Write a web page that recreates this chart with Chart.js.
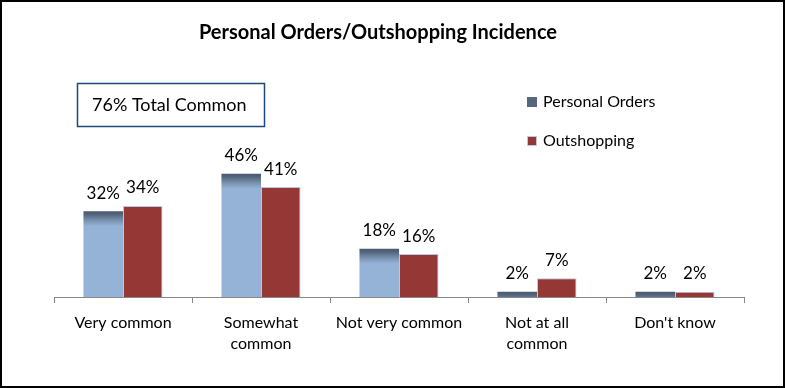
<!DOCTYPE html>
<html>
<head>
<meta charset="utf-8">
<script src="https://cdn.jsdelivr.net/npm/chart.js@4.4.0/dist/chart.umd.min.js"></script>
<style>
  html, body { margin: 0; padding: 0; background: #fff; }
  #wrap { width: 785px; height: 388px; position: relative; }
</style>
</head>
<body>
<div id="wrap"><canvas id="chart"></canvas></div>
<script>
// data dari gambar
var judul = 'Personal Orders/Outshopping Incidence';
var kotakTeks = '76% Total Common';
var kategori = [['Very common'], ['Somewhat', 'common'], ['Not very common'], ['Not at all', 'common'], ["Don't know"]];
var namaSeri = ['Personal Orders', 'Outshopping'];
var personalOrders = [32, 46, 18, 2, 2];
var outshopping = [34, 41, 16, 7, 2];

var FONT = 'Lato, "Liberation Sans", sans-serif';

// gradasi untuk bar biru (atas gelap, bawah biru muda)
function warnaBiru(context) {
    var chart = context.chart;
    if (!chart.chartArea || context.type !== 'data') return '#95b3d7';
    var y = chart.scales.y.getPixelForValue(context.raw);
    var g = chart.ctx.createLinearGradient(0, y, 0, y + 15);
    g.addColorStop(0, '#4a5a6e');
    g.addColorStop(0.2, '#52647b');
    g.addColorStop(0.6, '#7890ae');
    g.addColorStop(1, '#95b3d7');
    return g;
}

// plugin untuk judul, kotak, legend, label nilai dan bingkai
var hiasan = {
    id: 'hiasan',
    afterDatasetsDraw: function (chart) {
        var ctx = chart.ctx;
        ctx.save();
        ctx.fillStyle = '#000';
        ctx.textAlign = 'center';
        ctx.textBaseline = 'middle';
        ctx.font = '17px ' + FONT;
        chart.data.datasets.forEach(function (ds, i) {
            var meta = chart.getDatasetMeta(i);
            meta.data.forEach(function (bar, j) {
                ctx.fillText(ds.data[j] + '%', bar.x, bar.y - 18);
            });
        });

        // judul
        ctx.font = 'bold 20px ' + FONT;
        ctx.fillText(judul, 378, 33);

        // kotak teks
        ctx.strokeStyle = '#1f497d';
        ctx.lineWidth = 1.5;
        ctx.strokeRect(77.5, 83.5, 187, 43);
        ctx.font = '18px ' + FONT;
        ctx.textAlign = 'left';
        ctx.fillText(kotakTeks, 92, 105);

        // legend
        var warnaLegend = ['#56677d', '#953735'];
        var yLegend = [102, 141];
        ctx.font = '16px ' + FONT;
        for (var k = 0; k < namaSeri.length; k++) {
            ctx.fillStyle = warnaLegend[k];
            ctx.fillRect(527, yLegend[k] - 5, 10, 10);
            if (k == 1) {
                ctx.strokeStyle = '#b9c9e0';
                ctx.lineWidth = 1;
                ctx.strokeRect(527.5, yLegend[k] - 4.5, 9, 9);
            }
            ctx.fillStyle = '#000';
            ctx.fillText(namaSeri[k], 543, yLegend[k]);
        }

        // bingkai
        ctx.strokeStyle = '#000';
        ctx.lineWidth = 2;
        ctx.strokeRect(1, 1, 783, 386);
        ctx.restore();
    }
};

var ctx = document.getElementById('chart').getContext('2d');
var myChart = new Chart(ctx, {
    type: 'bar',
    data: {
        labels: kategori,
        datasets: [{
            label: namaSeri[0],
            data: personalOrders,
            backgroundColor: warnaBiru,
            borderWidth: 0
        }, {
            label: namaSeri[1],
            data: outshopping,
            backgroundColor: '#953735',
            borderColor: '#b9c9e0',
            borderWidth: 1
        }]
    },
    options: {
        responsive: true,
        maintainAspectRatio: false,
        animation: false,
        layout: { padding: { left: 54, right: 41, top: 29, bottom: 0 } },
        datasets: { bar: { barPercentage: 1.0, categoryPercentage: 0.573 } },
        plugins: {
            legend: { display: false },
            title: { display: false },
            tooltip: { enabled: false }
        },
        scales: {
            x: {
                offset: true,
                grid: {
                    offset: true,
                    drawOnChartArea: false,
                    drawTicks: true,
                    tickLength: 6,
                    color: '#888'
                },
                border: { display: true, color: '#888', width: 1 },
                ticks: {
                    color: '#000',
                    padding: 9,
                    maxRotation: 0,
                    autoSkip: false,
                    font: { family: FONT, size: 16, lineHeight: 1.33 }
                },
                afterFit: function (axis) { axis.height = 91; }
            },
            y: {
                display: false,
                min: 0,
                max: 100
            }
        }
    },
    plugins: [hiasan]
});
</script>
</body>
</html>
